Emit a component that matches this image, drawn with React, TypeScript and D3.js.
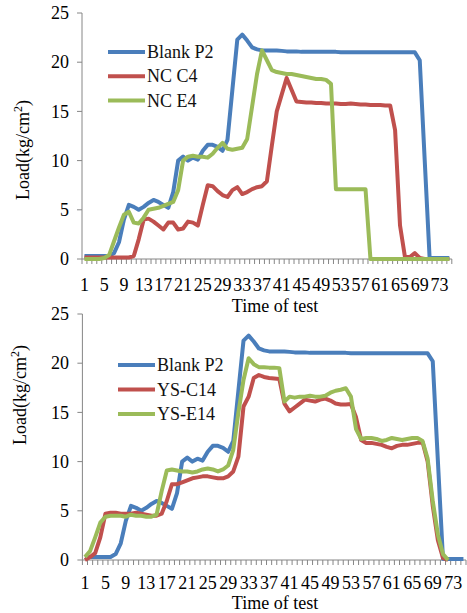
import React, { useEffect, useRef } from "react";
import * as d3 from "d3";

// time of test (categories) and load axis ticks
const times = d3.range(1, 76);
const loadTicks = [0, 5, 10, 15, 20, 25];

// Load (kg/cm2) per test step
const blankP2 = [
  0.3, 0.3, 0.3, 0.3, 0.3, 0.3, 0.6, 1.7, 4.0, 5.5,
  5.3, 5.0, 5.3, 5.7, 6.0, 5.8, 5.5, 5.2, 6.8, 10.0,
  10.4, 10.0, 10.3, 10.1, 11.0, 11.6, 11.6, 11.4, 11.0, 12.1,
  17.2, 22.3, 22.8, 22.2, 21.5, 21.3, 21.2, 21.2, 21.2, 21.2,
  21.15, 21.1, 21.1, 21.1, 21.05, 21.05, 21.05, 21.05, 21.05, 21.05,
  21.05, 21.05, 21.0, 21.0, 21.0, 21.0, 21.0, 21.0, 21.0, 21.0,
  21.0, 21.0, 21.0, 21.0, 21.0, 21.0, 21.0, 21.0, 20.2, 10.1,
  0.1, 0.1, 0.1, 0.1, 0.1,
];

const ncC4 = [
  0.15, 0.15, 0.15, 0.15, 0.15, 0.15, 0.15, 0.15, 0.15, 0.15,
  0.3, 2.0, 4.0, 4.1, 3.8, 3.4, 3.0, 3.7, 3.7, 3.0,
  3.1, 3.8, 3.7, 3.4, 5.5, 7.5, 7.4, 6.9, 6.5, 6.3,
  7.0, 7.3, 6.6, 6.8, 7.1, 7.3, 7.4, 7.9, 11.5, 15.0,
  16.7, 18.4, 17.2, 16.0, 15.95, 15.9, 15.9, 15.85, 15.85, 15.8,
  15.8, 15.8, 15.75, 15.75, 15.8, 15.75, 15.7, 15.7, 15.65, 15.65,
  15.65, 15.6, 15.6, 13.1, 3.4, 0.2, 0.2, 0.6, 0.1, 0,
  0, 0, 0, 0, 0,
];

const ncE4 = [
  0, 0, 0, 0, 0.1, 0.4, 1.8, 3.2, 4.5, 4.8,
  3.7, 3.6, 4.2, 5.0, 5.1, 5.2, 5.4, 5.6, 5.8, 7.0,
  10.0, 10.4, 10.5, 10.4, 10.4, 10.3, 10.7, 11.3, 11.8, 11.2,
  11.1, 11.2, 11.3, 12.2, 15.5, 18.8, 21.2, 20.2, 19.2, 19.0,
  18.9, 18.8, 18.8, 18.7, 18.6, 18.5, 18.4, 18.3, 18.3, 18.2,
  17.8, 7.1, 7.1, 7.1, 7.1, 7.1, 7.1, 7.1, 0, 0,
  0, 0, 0, 0, 0, 0, 0, 0, 0, 0,
  0, 0, 0, 0, 0,
];

const ysC14 = [
  0, 0.3, 0.7, 2.3, 4.7, 4.8, 4.8, 4.7, 4.7, 4.7,
  4.8, 4.7, 4.6, 4.5, 4.5, 4.7, 6.0, 7.7, 7.7, 7.9,
  8.1, 8.3, 8.4, 8.5, 8.5, 8.4, 8.3, 8.3, 8.5, 9.0,
  10.5, 15.6, 16.6, 18.5, 18.8, 18.6, 18.5, 18.45, 18.4, 15.9,
  15.1, 15.5, 15.9, 16.3, 16.2, 16.1, 16.3, 16.4, 16.2, 15.9,
  15.8, 15.8, 15.85, 14.5, 12.2, 11.9, 11.9, 11.8, 11.7, 11.5,
  11.35, 11.6, 11.7, 11.7, 11.8, 11.9, 12.0, 10.0, 5.5, 2.0,
  0.2, 0,
];

const ysE14 = [
  0.3, 0.9, 2.3, 3.8, 4.4, 4.5, 4.5, 4.5, 4.4, 4.6,
  4.5, 4.5, 4.4, 4.4, 4.6, 7.0, 9.1, 9.2, 9.1, 9.0,
  9.0, 8.9, 9.0, 9.2, 9.3, 9.2, 9.0, 9.2, 9.6, 11.2,
  15.0, 18.3, 20.5, 19.9, 19.6, 19.6, 19.55, 19.55, 19.5, 16.1,
  16.6, 16.5, 16.6, 16.6, 16.7, 16.6, 16.6, 16.7, 17.0, 17.2,
  17.3, 17.45, 16.6, 13.3, 12.3, 12.4, 12.4, 12.3, 12.1, 12.2,
  12.4, 12.3, 12.2, 12.3, 12.4, 12.4, 12.1, 10.3, 6.0, 2.6,
  0.6, 0,
];

const BLUE = "#4a7ebb";
const RED = "#c0504d";
const GREEN = "#9bbb59";
const AXIS = "#868686";
const FONT = "'Liberation Serif', 'Times New Roman', serif";

const panels = [
  {
    top: 13, bottom: 259, left: 82, right: 451.8,
    labelY: 291, titleY: 312, yTitleX: 29, yTitleY: 150,
    legend: { x1: 108, x2: 145, y0: 52, dy: 24.2 },
    series: [
      { name: "Blank P2", values: blankP2, color: BLUE },
      { name: "NC C4", values: ncC4, color: RED },
      { name: "NC E4", values: ncE4, color: GREEN },
    ],
  },
  {
    top: 314, bottom: 560, left: 82.4, right: 466,
    labelY: 589, titleY: 609, yTitleX: 26, yTitleY: 395,
    legend: { x1: 118, x2: 155, y0: 365, dy: 24.5 },
    series: [
      { name: "Blank P2", values: blankP2, color: BLUE },
      { name: "YS-C14", values: ysC14, color: RED },
      { name: "YS-E14", values: ysE14, color: GREEN },
    ],
  },
];

function drawPanel(svg, p) {
  const g = svg.append("g");
  const x = d3.scaleBand().domain(times).range([p.left, p.right]);
  const cx = (t) => x(t) + x.bandwidth() / 2;
  const y = d3.scaleLinear().domain([0, 25]).range([p.bottom, p.top]);

  // y axis
  g.append("line")
    .attr("x1", p.left).attr("x2", p.left)
    .attr("y1", p.top).attr("y2", p.bottom)
    .attr("stroke", AXIS);
  g.selectAll(".ytick")
    .data(loadTicks)
    .join("line")
    .attr("x1", p.left - 5).attr("x2", p.left)
    .attr("y1", (d) => y(d)).attr("y2", (d) => y(d))
    .attr("stroke", AXIS);
  g.selectAll(".ylabel")
    .data(loadTicks)
    .join("text")
    .attr("x", 69)
    .attr("y", (d) => y(d))
    .attr("dy", "0.34em")
    .attr("text-anchor", "end")
    .attr("font-family", FONT)
    .attr("font-size", 18)
    .text((d) => d);

  // x axis with a tick at every category boundary
  g.append("line")
    .attr("x1", p.left).attr("x2", p.right)
    .attr("y1", p.bottom).attr("y2", p.bottom)
    .attr("stroke", AXIS);
  g.selectAll(".xtick")
    .data([...times.map((t) => x(t)), p.right])
    .join("line")
    .attr("x1", (d) => d).attr("x2", (d) => d)
    .attr("y1", p.bottom).attr("y2", p.bottom + 5)
    .attr("stroke", AXIS);
  g.selectAll(".xlabel")
    .data(times.filter((t) => (t - 1) % 4 === 0))
    .join("text")
    .attr("x", (d) => cx(d))
    .attr("y", p.labelY)
    .attr("text-anchor", "middle")
    .attr("font-family", FONT)
    .attr("font-size", 18)
    .text((d) => d);

  g.append("text")
    .attr("x", 275)
    .attr("y", p.titleY)
    .attr("text-anchor", "middle")
    .attr("font-family", FONT)
    .attr("font-size", 18)
    .text("Time of test");

  const yt = g.append("text")
    .attr("transform", `translate(${p.yTitleX},${p.yTitleY}) rotate(-90)`)
    .attr("text-anchor", "middle")
    .attr("font-family", FONT)
    .attr("font-size", 18);
  yt.append("tspan").text("Load(kg/cm");
  yt.append("tspan").attr("font-size", 12).attr("dy", -7).text("2");
  yt.append("tspan").attr("dy", 7).text(")");

  // series lines
  const line = d3.line().x((d, i) => cx(times[i])).y((d) => y(d));
  g.selectAll(".series")
    .data(p.series)
    .join("path")
    .attr("d", (s) => line(s.values))
    .attr("fill", "none")
    .attr("stroke", (s) => s.color)
    .attr("stroke-width", 4)
    .attr("stroke-linejoin", "round");

  // legend
  const lg = g.selectAll(".legend")
    .data(p.series)
    .join("g")
    .attr("transform", (s, i) => `translate(0,${p.legend.y0 + i * p.legend.dy})`);
  lg.append("line")
    .attr("x1", p.legend.x1).attr("x2", p.legend.x2)
    .attr("stroke", (s) => s.color)
    .attr("stroke-width", 4);
  lg.append("text")
    .attr("x", p.legend.x2 + 2)
    .attr("dy", "0.34em")
    .attr("font-family", FONT)
    .attr("font-size", 18)
    .attr("fill", "#111")
    .text((s) => s.name);
}

export default function App() {
  const ref = useRef(null);

  useEffect(() => {
    const svg = d3.select(ref.current);
    svg.selectAll("*").remove();
    panels.forEach((p) => drawPanel(svg, p));
  }, []);

  return (
    <svg
      ref={ref}
      width={467}
      height={613}
      style={{ position: "absolute", left: 0, top: 0, background: "#fff" }}
    />
  );
}
